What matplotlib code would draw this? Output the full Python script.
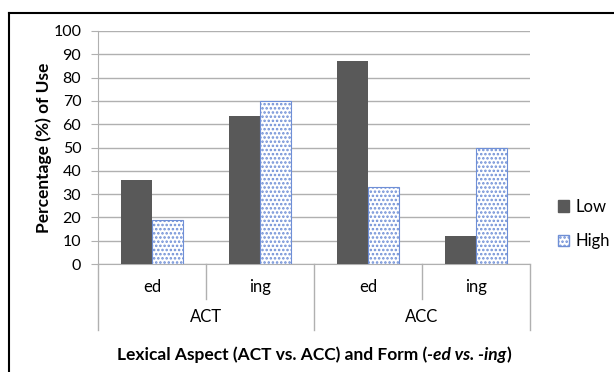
import matplotlib
matplotlib.use("Agg")
import matplotlib.pyplot as plt
from matplotlib.patches import Patch
from matplotlib.lines import Line2D
import numpy as np

plt.rcParams['font.family'] = ['Lato', 'DejaVu Sans']
plt.rcParams['hatch.linewidth'] = 1.2

forms = ["ed", "ing", "ed", "ing"]
aspects = ["ACT", "ACC"]
low = [36, 63.5, 87, 12]
high = [19, 70, 33, 50]

LOW_COLOR = "#595959"
HIGH_EDGE = "#6f8fd6"
GRID = "#b0b0b0"

fig = plt.figure(figsize=(6.14, 3.72), dpi=100)
ax = fig.add_axes([98 / 614, 1 - 264 / 372, (530 - 98) / 614, (264 - 31) / 372])

x = np.arange(len(forms))
w = 0.29
ax.bar(x - w / 2, low, w, color=LOW_COLOR, zorder=3)
ax.bar(x + w / 2, high, w, color="white", edgecolor=HIGH_EDGE, hatch="....",
       linewidth=0.8, zorder=3)

ax.set_xlim(-0.5, len(forms) - 0.5)
ax.set_ylim(0, 100)
ax.set_yticks(range(0, 101, 10))
ax.tick_params(axis="y", labelsize=11.5, length=5, color=GRID, pad=7)
ax.tick_params(axis="x", length=0, labelbottom=False)
ax.yaxis.grid(True, color=GRID, linewidth=1.0, zorder=0)
ax.set_axisbelow(True)
for s in ["top", "right"]:
    ax.spines[s].set_visible(False)
ax.spines["left"].set_color(GRID)
ax.spines["bottom"].set_color(GRID)

# two-level category axis
trans = ax.get_xaxis_transform()
for i in range(len(forms) + 1):
    xb = i - 0.5
    bottom = -0.285 if i % 2 == 0 else -0.15
    ax.add_line(Line2D([xb, xb], [0, bottom], transform=trans, color=GRID,
                       linewidth=1.0, clip_on=False))
for i, f in enumerate(forms):
    ax.text(i, -0.1, f, transform=trans, ha="center", va="center", fontsize=12)
for j, a in enumerate(aspects):
    ax.text(2 * j + 0.5, -0.228, a, transform=trans, ha="center", va="center", fontsize=12)

ax.set_ylabel("Percentage (%) of Use", fontsize=12.5, fontweight="bold")
ax.yaxis.set_label_coords(-0.106, 0.5)

# x title with the italic part set in its own run
parts = [("Lexical Aspect (ACT vs. ACC) and Form (", "normal"),
         ("-ed vs. -ing", "italic"),
         (")", "normal")]
renderer = fig.canvas.get_renderer()
runs = [fig.text(0, 1 - 355 / 372, s, ha="left", va="center", fontsize=12.5,
                 fontweight="bold", fontstyle=st) for s, st in parts]
widths = [r.get_window_extent(renderer).width / fig.bbox.width for r in runs]
xpos = (98 + 530) / 2 / 614 - sum(widths) / 2
for r, wd in zip(runs, widths):
    r.set_x(xpos)
    xpos += wd

handles = [Patch(facecolor=LOW_COLOR, edgecolor=LOW_COLOR),
           Patch(facecolor="white", edgecolor=HIGH_EDGE, hatch="....")]
fig.legend(handles, ["Low", "High"], loc="center left",
           bbox_to_anchor=(543 / 614, 1 - 224 / 372), frameon=False,
           fontsize=12, handlelength=0.65, handleheight=0.65, handletextpad=0.4,
           labelspacing=1.1)

# outer frame
fig.add_artist(Line2D([9 / 614, 1], [1 - 13 / 372, 1 - 13 / 372], color="black",
                      linewidth=1.5, transform=fig.transFigure))
fig.add_artist(Line2D([9 / 614, 9 / 614], [0, 1 - 13 / 372], color="black",
                      linewidth=1.5, transform=fig.transFigure))

fig.savefig("out.png", dpi=100)
